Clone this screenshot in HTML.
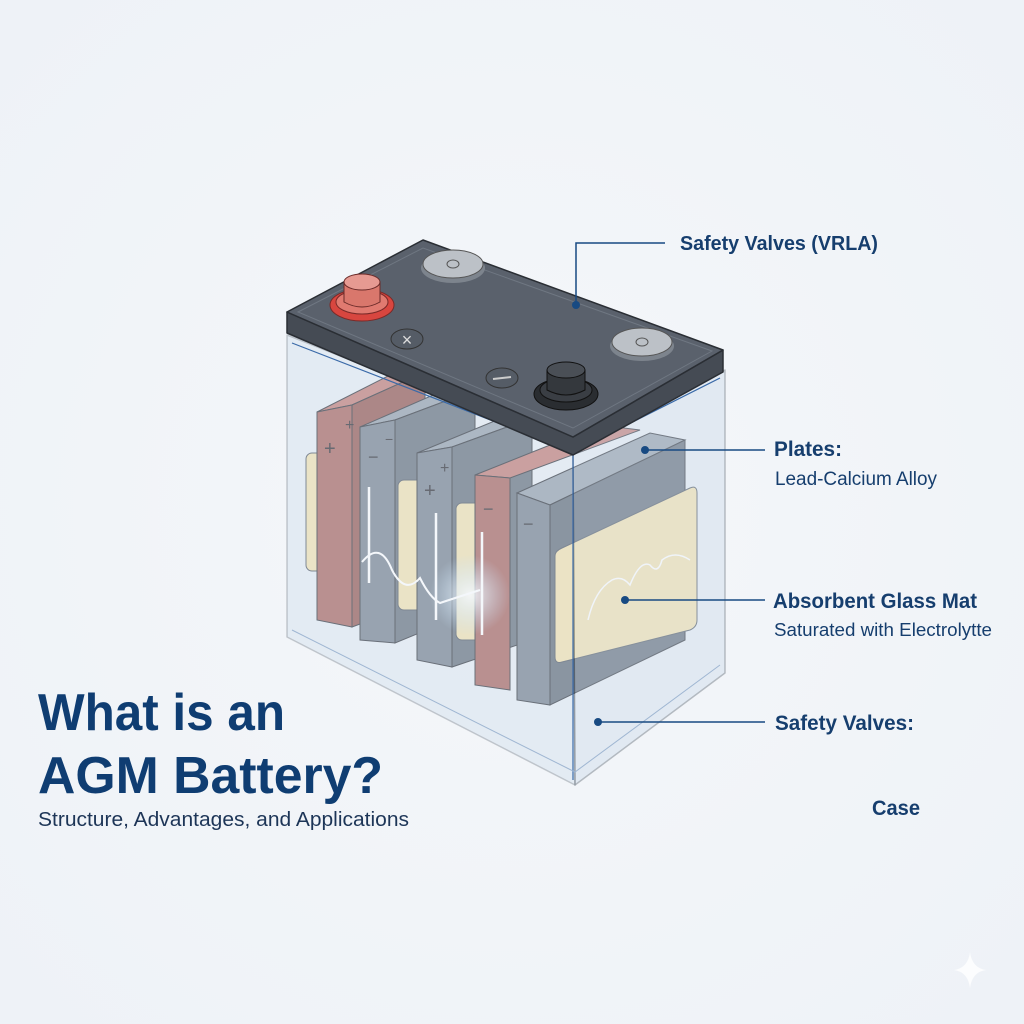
<!DOCTYPE html>
<html><head><meta charset="utf-8"><style>
html,body{margin:0;padding:0;width:1024px;height:1024px;overflow:hidden;background:#f1f4f8}
svg{display:block}
text{font-family:"Liberation Sans",sans-serif;fill:#163e6e}
</style></head><body>
<svg width="1024" height="1024" viewBox="0 0 1024 1024" xmlns="http://www.w3.org/2000/svg">
<defs>
<radialGradient id="bg" cx="0.5" cy="0.5" r="0.7"><stop offset="0" stop-color="#f5f7fa"/><stop offset="1" stop-color="#eef2f7"/></radialGradient>
<radialGradient id="glow" cx="0.5" cy="0.5" r="0.5"><stop offset="0" stop-color="#ffffff" stop-opacity="0.9"/><stop offset="1" stop-color="#bfe3ff" stop-opacity="0"/></radialGradient>
</defs>
<rect width="1024" height="1024" fill="url(#bg)"/>

<polygon points="287,335 430,262 725,370 725,673 575,785 287,637" fill="#dfe7f0" opacity="0.6"/>

<rect x="306" y="453" width="20" height="118" rx="6" fill="#f0e2b6" stroke="#5b6470" stroke-width="1"/>

<!-- plate1 red -->
<polygon points="317,412 390,375 425,372 352,405" fill="#c48580" stroke="#3e434b" stroke-width="1"/>
<polygon points="352,405 425,372 425,600 352,627" fill="#9a625e" stroke="#3e434b" stroke-width="1"/>
<polygon points="317,412 352,405 352,627 317,620" fill="#ad6f6a" stroke="#3e434b" stroke-width="1"/>
<text x="324" y="455" style="font-size:20px;fill:#3a3a40">+</text>
<text x="345" y="430" style="font-size:16px;fill:#3a3a40">+</text>

<!-- plate2 gray -->
<polygon points="360,427 440,392 475,390 395,420" fill="#9aa5b1" stroke="#3e434b" stroke-width="1"/>
<polygon points="395,420 475,390 475,610 395,643" fill="#6f7a86" stroke="#3e434b" stroke-width="1"/>
<polygon points="360,427 395,420 395,643 360,640" fill="#7f8a97" stroke="#3e434b" stroke-width="1"/>
<text x="368" y="463" style="font-size:18px;fill:#3a3a40">−</text>
<text x="385" y="444" style="font-size:14px;fill:#3a3a40">−</text>

<rect x="398" y="480" width="36" height="130" rx="6" fill="#f0e2b6" stroke="#5b6470"/>

<!-- plate3 gray -->
<polygon points="417,453 497,420 532,418 452,447" fill="#9aa5b1" stroke="#3e434b" stroke-width="1"/>
<polygon points="452,447 532,418 532,640 452,667" fill="#6f7a86" stroke="#3e434b" stroke-width="1"/>
<polygon points="417,453 452,447 452,667 417,660" fill="#7f8a97" stroke="#3e434b" stroke-width="1"/>
<text x="424" y="497" style="font-size:20px;fill:#3a3a40">+</text>
<text x="440" y="473" style="font-size:16px;fill:#3a3a40">+</text>

<rect x="456" y="503" width="30" height="137" rx="6" fill="#f0e2b6" stroke="#5b6470"/>

<!-- plate4 red -->
<polygon points="475,475 600,425 640,430 510,478" fill="#c48580" stroke="#3e434b" stroke-width="1"/>
<polygon points="475,475 510,478 510,690 475,685" fill="#ad6f6a" stroke="#3e434b" stroke-width="1"/>
<text x="483" y="515" style="font-size:18px;fill:#3a3a40">−</text>

<!-- plate5 -->
<polygon points="517,493 650,433 685,440 550,505" fill="#9aa5b1" stroke="#3e434b" stroke-width="1"/>
<polygon points="550,505 685,440 685,640 550,705" fill="#6b7682" stroke="#3e434b" stroke-width="1"/>
<polygon points="517,493 550,505 550,705 517,700" fill="#7f8a97" stroke="#3e434b" stroke-width="1"/>
<text x="523" y="530" style="font-size:18px;fill:#3a3a40">−</text>
<path d="M562,548 L690,488 Q697,485 697,493 L697,620 Q697,627 690,630 L562,662 Q555,664 555,657 L555,556 Q555,551 562,548Z" fill="#f2e2b4" stroke="#5b6470"/>
<path d="M588,620 Q595,590 612,580 Q622,575 630,585 Q640,560 650,565 Q658,575 662,560 Q675,550 690,560" fill="none" stroke="#fff" stroke-width="1.5"/>

<circle cx="470" cy="595" r="40" fill="url(#glow)"/>
<path d="M362,562 Q380,540 392,570 Q405,595 420,578 Q430,598 440,603 Q455,598 480,590" fill="none" stroke="#ffffff" stroke-width="2"/>
<line x1="369" y1="487" x2="369" y2="583" stroke="#fff" stroke-width="2.5"/>
<line x1="436" y1="513" x2="436" y2="620" stroke="#fff" stroke-width="2.5"/>
<line x1="482" y1="532" x2="482" y2="635" stroke="#fff" stroke-width="2.5"/>

<polygon points="287,335 573,448 575,785 287,637" fill="#dbe6f2" opacity="0.28" stroke="#4b5560" stroke-width="1.5" stroke-linejoin="round"/>
<polygon points="573,448 725,370 725,673 575,785" fill="#d6e2ef" opacity="0.35" stroke="#4b5560" stroke-width="1.5" stroke-linejoin="round"/>
<line x1="573" y1="450" x2="573" y2="780" stroke="#3a6aa8" stroke-width="1.2"/>
<polyline points="292,343 573,452 720,378" fill="none" stroke="#3a6aa8" stroke-width="1.2"/>
<polyline points="292,630 575,772 720,665" fill="none" stroke="#9fb6d2" stroke-width="1"/>

<!-- lid -->
<polygon points="287,312 287,333 573,455 723,372 723,350 573,437" fill="#454b54" stroke="#2a2e34" stroke-width="1.5" stroke-linejoin="round"/>
<polygon points="287,312 423,240 723,350 573,437" fill="#5a616c" stroke="#2a2e34" stroke-width="1.5" stroke-linejoin="round"/>
<polygon points="298,312 423,248 712,351 573,428" fill="none" stroke="#6f7782" stroke-width="1"/>

<ellipse cx="453" cy="268" rx="32" ry="15" fill="#7d848d"/>
<ellipse cx="453" cy="264" rx="30" ry="14" fill="#bcc1c7" stroke="#555" stroke-width="1"/>
<ellipse cx="453" cy="264" rx="6" ry="4" fill="none" stroke="#555"/>
<ellipse cx="642" cy="346" rx="32" ry="15" fill="#7d848d"/>
<ellipse cx="642" cy="342" rx="30" ry="14" fill="#bcc1c7" stroke="#555" stroke-width="1"/>
<ellipse cx="642" cy="342" rx="6" ry="4" fill="none" stroke="#555"/>
<ellipse cx="407" cy="339" rx="16" ry="10" fill="#555c66" stroke="#333"/>
<text x="407" y="346" text-anchor="middle" style="font-size:18px;fill:#ddd">×</text>
<ellipse cx="502" cy="378" rx="16" ry="10" fill="#555c66" stroke="#333"/>
<line x1="493" y1="379" x2="511" y2="377" stroke="#ccc" stroke-width="2"/>
<ellipse cx="362" cy="305" rx="32" ry="16" fill="#d8463f" stroke="#7a2a28"/>
<ellipse cx="362" cy="302" rx="26" ry="12" fill="#e07a70" stroke="#7a2a28"/>
<path d="M344,282 L344,302 Q362,312 380,302 L380,282Z" fill="#d9776c" stroke="#6a2a28"/>
<ellipse cx="362" cy="282" rx="18" ry="8" fill="#e69a92" stroke="#6a2a28"/>
<ellipse cx="566" cy="394" rx="32" ry="16" fill="#2a2d31" stroke="#111"/>
<ellipse cx="566" cy="390" rx="26" ry="12" fill="#3a3e44" stroke="#111"/>
<path d="M547,370 L547,390 Q566,400 585,390 L585,370Z" fill="#34383d" stroke="#111"/>
<ellipse cx="566" cy="370" rx="19" ry="8" fill="#4a4f56" stroke="#111"/>

<g stroke="#184a82" stroke-width="1.5" fill="none">
<polyline points="665,243 576,243 576,305"/>
<line x1="645" y1="450" x2="765" y2="450"/>
<line x1="625" y1="600" x2="765" y2="600"/>
<line x1="598" y1="722" x2="765" y2="722"/>
</g>
<g fill="#184a82">
<circle cx="576" cy="305" r="4"/><circle cx="645" cy="450" r="4"/><circle cx="625" cy="600" r="4"/><circle cx="598" cy="722" r="4"/>
</g>

<text x="680" y="250" textLength="198" lengthAdjust="spacingAndGlyphs" style="font-size:20px;font-weight:bold">Safety Valves (VRLA)</text>
<text x="774" y="456" textLength="68" lengthAdjust="spacingAndGlyphs" style="font-size:21px;font-weight:bold">Plates:</text>
<text x="775" y="485" textLength="162" lengthAdjust="spacingAndGlyphs" style="font-size:19px">Lead-Calcium Alloy</text>
<text x="773" y="608" textLength="204" lengthAdjust="spacingAndGlyphs" style="font-size:21px;font-weight:bold">Absorbent Glass Mat</text>
<text x="774" y="636" textLength="218" lengthAdjust="spacingAndGlyphs" style="font-size:18px">Saturated with Electrolytte</text>
<text x="775" y="730" textLength="139" lengthAdjust="spacingAndGlyphs" style="font-size:21px;font-weight:bold">Safety Valves:</text>
<text x="872" y="815" textLength="48" lengthAdjust="spacingAndGlyphs" style="font-size:21px;font-weight:bold">Case</text>

<text x="38" y="730" textLength="247" lengthAdjust="spacingAndGlyphs" style="font-size:52px;font-weight:bold;fill:#0f3d72">What is an</text>
<text x="38" y="793" textLength="345" lengthAdjust="spacingAndGlyphs" style="font-size:52px;font-weight:bold;fill:#0f3d72">AGM Battery?</text>
<text x="38" y="826" textLength="371" lengthAdjust="spacingAndGlyphs" style="font-size:20px;fill:#1d3557">Structure, Advantages, and Applications</text>

<path d="M970,952 Q972,968 986,970 Q972,972 970,988 Q968,972 954,970 Q968,968 970,952Z" fill="#ffffff" opacity="0.8"/>
</svg>
</body></html>
